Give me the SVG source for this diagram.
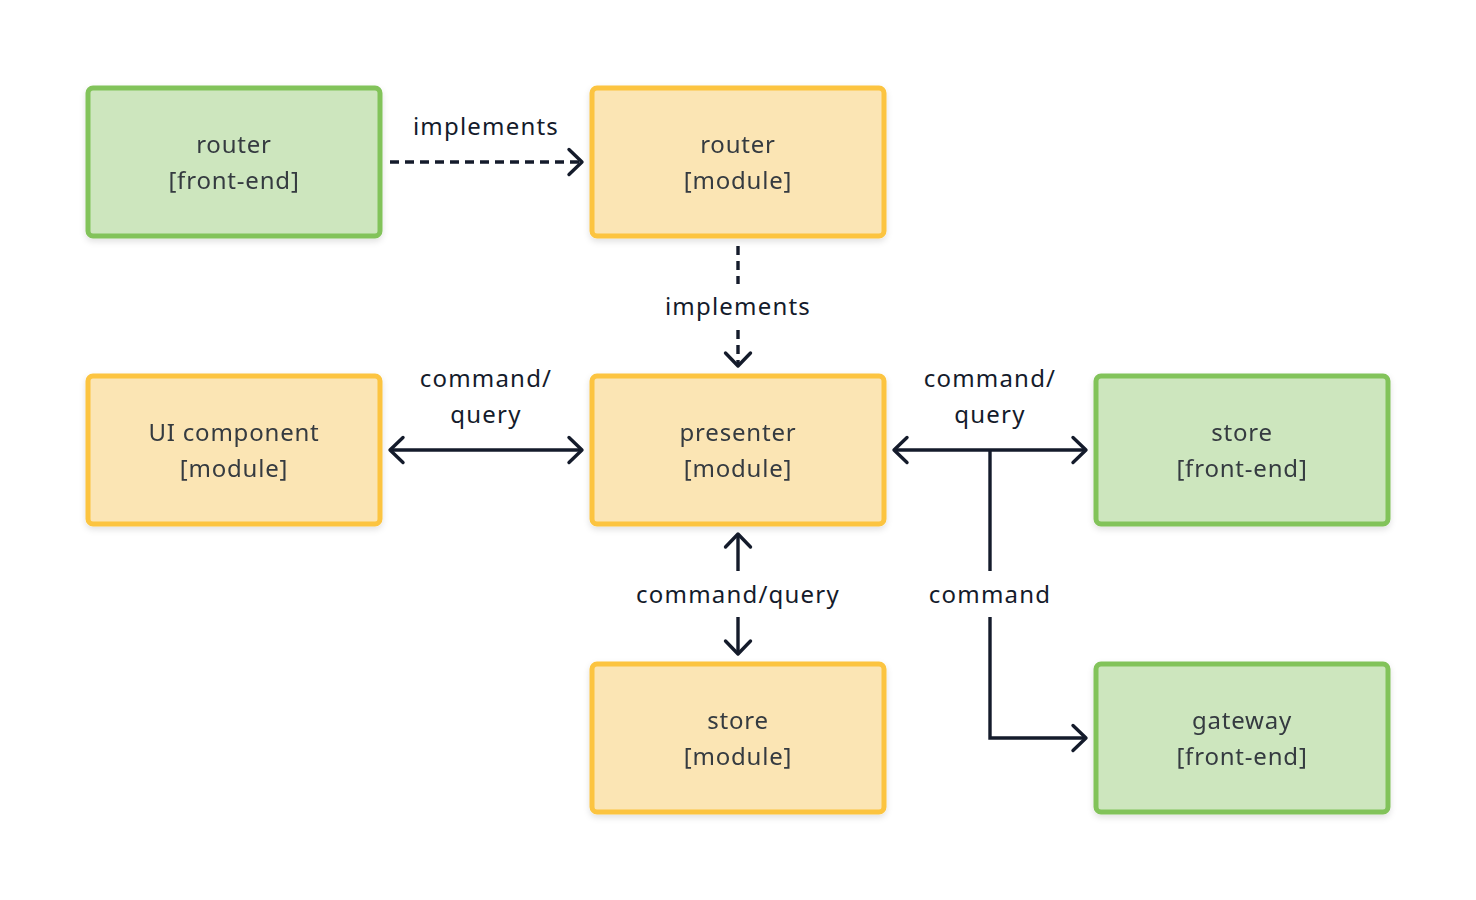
<svg xmlns="http://www.w3.org/2000/svg" width="1476" height="900" viewBox="0 0 1476 900">
<defs>
<filter id="sh" x="-10%" y="-10%" width="120%" height="130%"><feDropShadow dx="0" dy="3" stdDeviation="3" flood-color="#000" flood-opacity="0.12"/></filter>
<marker id="ah" viewBox="0 0 20 30" refX="17" refY="15" markerWidth="20" markerHeight="30" markerUnits="userSpaceOnUse" orient="auto-start-reverse"><path d="M4 2.5 L17 15 L4 27.5" fill="none" stroke="#141b2b" stroke-width="3.4" stroke-linecap="round" stroke-linejoin="round"/></marker>
</defs>
<style>
.g rect{fill:#cde6be;stroke:#82c35a;stroke-width:5}
.y rect{fill:#fbe5b4;stroke:#fcc43f;stroke-width:5}
.n text{font-family:"Noto Sans","Open Sans",sans-serif;font-size:24px;fill:#343a40;text-anchor:middle;letter-spacing:0.8px}
.c path{fill:none;stroke:#141b2b;stroke-width:3.4}
.d{stroke-dasharray:9 6}
.l{font-family:"Noto Sans","Open Sans",sans-serif;font-size:24px;fill:#141b2b;text-anchor:middle;letter-spacing:1.2px}
</style>
<rect width="1476" height="900" fill="#fff"/>
<g id="router-fe" class="n g" filter="url(#sh)"><rect x="88" y="88" width="292" height="148" rx="5"/><text x="234" y="153">router</text><text x="234" y="189">[front-end]</text></g>
<g id="router-mod" class="n y" filter="url(#sh)"><rect x="592" y="88" width="292" height="148" rx="5"/><text x="738" y="153">router</text><text x="738" y="189">[module]</text></g>
<g id="ui-mod" class="n y" filter="url(#sh)"><rect x="88" y="376" width="292" height="148" rx="5"/><text x="234" y="441">UI component</text><text x="234" y="477">[module]</text></g>
<g id="presenter-mod" class="n y" filter="url(#sh)"><rect x="592" y="376" width="292" height="148" rx="5"/><text x="738" y="441">presenter</text><text x="738" y="477">[module]</text></g>
<g id="store-fe" class="n g" filter="url(#sh)"><rect x="1096" y="376" width="292" height="148" rx="5"/><text x="1242" y="441">store</text><text x="1242" y="477">[front-end]</text></g>
<g id="store-mod" class="n y" filter="url(#sh)"><rect x="592" y="664" width="292" height="148" rx="5"/><text x="738" y="729">store</text><text x="738" y="765">[module]</text></g>
<g id="gateway-fe" class="n g" filter="url(#sh)"><rect x="1096" y="664" width="292" height="148" rx="5"/><text x="1242" y="729">gateway</text><text x="1242" y="765">[front-end]</text></g>
<g id="connectors" class="c">
<path class="d" d="M390 162 H582" marker-end="url(#ah)"/>
<text class="l" x="486" y="135">implements</text>
<path class="d" d="M738 246 V284"/>
<path class="d" d="M738 330 V366" marker-end="url(#ah)"/>
<text class="l" x="738" y="315">implements</text>
<path d="M390 450 H582" marker-start="url(#ah)" marker-end="url(#ah)"/>
<text class="l" x="486" y="387">command/</text><text class="l" x="486" y="423">query</text>
<path d="M894 450 H1086" marker-start="url(#ah)" marker-end="url(#ah)"/>
<text class="l" x="990" y="387">command/</text><text class="l" x="990" y="423">query</text>
<path d="M990 450 V571"/>
<path d="M990 617 V738 H1086" marker-end="url(#ah)"/>
<text class="l" x="990" y="603">command</text>
<path d="M738 534 V571" marker-start="url(#ah)"/>
<path d="M738 617 V654" marker-end="url(#ah)"/>
<text class="l" x="738" y="603">command/query</text>
</g>
</svg>
